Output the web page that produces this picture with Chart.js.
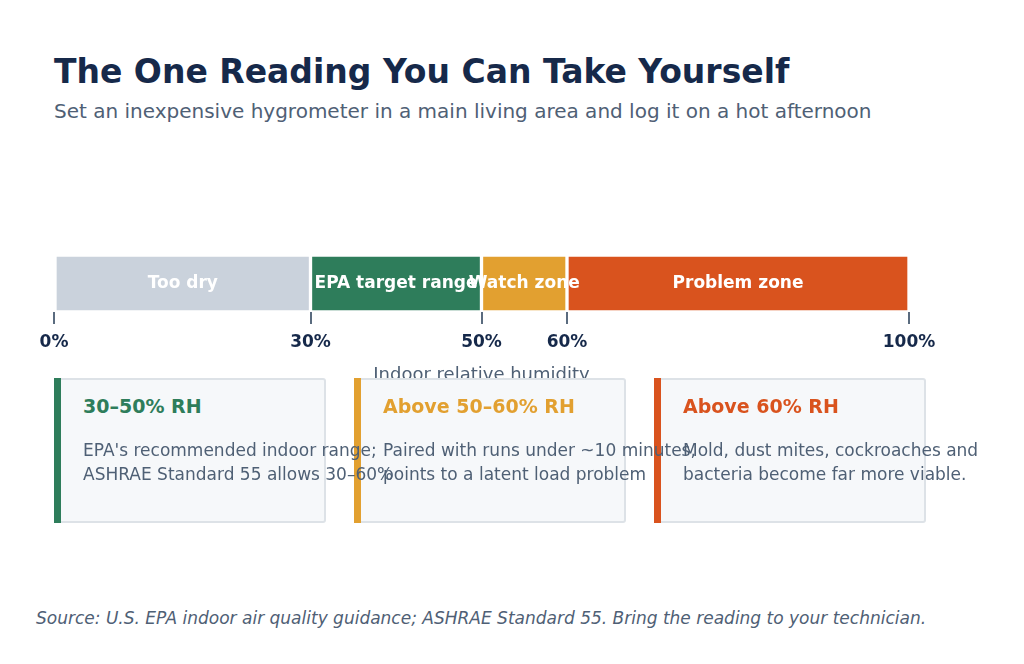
<!DOCTYPE html>
<html><head><meta charset="utf-8">
<script src="https://cdn.jsdelivr.net/npm/chart.js@4"></script>
<style>
body{margin:0;width:1024px;height:664px;background:#fff;font-family:"DejaVu Sans",sans-serif;position:relative;overflow:hidden}
.abs{position:absolute;white-space:nowrap}
h1{position:absolute;left:54px;top:52px;margin:0;font-size:33px;color:#16294a;font-weight:bold}
.sub{left:54px;top:99px;font-size:20px;color:#4f6075}
.card{position:absolute;top:378px;width:268px;height:141px;background:#f6f8fa;border:2px solid #dde2e7;border-radius:3px}
.card .bar{position:absolute;left:-2px;top:-2px;bottom:-2px;width:7px}
.card .hd{position:absolute;left:27px;top:15px;font-size:19px;font-weight:bold;white-space:nowrap}
.card .tx{position:absolute;z-index:10;left:27px;top:58px;font-size:17px;line-height:24px;color:#4f6075;white-space:nowrap}
.src{left:36px;top:608px;font-size:17px;font-style:italic;color:#4f6075}
</style></head><body>
<h1>The One Reading You Can Take Yourself</h1>
<div class="abs sub">Set an inexpensive hygrometer in a main living area and log it on a hot afternoon</div>
<div style="position:absolute;left:0;top:200px;width:1024px;height:190px"><canvas id="c"></canvas></div>
<div id="cards"></div>
<div class="abs src">Source: U.S. EPA indoor air quality guidance; ASHRAE Standard 55. Bring the reading to your technician.</div>
<script>
const zoneNames = ["Too dry", "EPA target range", "Watch zone", "Problem zone"];
const zoneStart = [0, 30, 50, 60];
const zoneEnd = [30, 50, 60, 100];
const zoneColors = ["#cad2dc", "#2e7d5b", "#e2a030", "#d9531e"];
const tickValues = [0, 30, 50, 60, 100];

const cardHeads = ["30–50% RH", "Above 50–60% RH", "Above 60% RH"];
const cardTexts = [
  "EPA's recommended indoor range;<br>ASHRAE Standard 55 allows 30–60%",
  "Paired with runs under ~10 minutes,<br>points to a latent load problem",
  "Mold, dust mites, cockroaches and<br>bacteria become far more viable."
];
const cardColors = ["#2e7d5b", "#e2a030", "#d9531e"];
const cardLeft = [54, 354, 654];

cardHeads.forEach((h, i) => {
  const d = document.createElement("div");
  d.className = "card";
  d.style.left = cardLeft[i] + "px";
  d.innerHTML = `<div class="bar" style="background:${cardColors[i]}"></div><div class="hd" style="color:${cardColors[i]}">${h}</div><div class="tx">${cardTexts[i]}</div>`;
  document.getElementById("cards").appendChild(d);
});

// Draw zone names centred in each bar segment
const labelPlugin = {
  id: "zoneLabels",
  afterDatasetsDraw(chart) {
    const ctx = chart.ctx;
    ctx.save();
    ctx.font = "bold 17px 'DejaVu Sans'";
    ctx.fillStyle = "#fff";
    ctx.textAlign = "center";
    ctx.textBaseline = "middle";
    chart.getDatasetMeta(0).data.forEach((bar, i) => {
      ctx.fillText(zoneNames[i], (bar.x + bar.base) / 2, bar.y);
    });
    ctx.restore();
  }
};

new Chart(document.getElementById("c"), {
  type: "bar",
  data: {
    labels: ["zones"],
    datasets: [{
      data: zoneNames.map((n, i) => ({ x: [zoneStart[i], zoneEnd[i]], y: "zones" })),
      backgroundColor: zoneColors,
      borderColor: "#fff",
      borderWidth: 2,
      borderSkipped: false,
      categoryPercentage: 1,
      barPercentage: 1
    }]
  },
  options: {
    indexAxis: "y",
    responsive: true,
    maintainAspectRatio: false,
    animation: false,
    layout: { padding: { left: 54, right: 115, top: 55, bottom: 0 } },
    plugins: { legend: { display: false }, tooltip: { enabled: false } },
    scales: {
      y: { display: false },
      x: {
        min: 0, max: 100,
        afterBuildTicks: s => { s.ticks = tickValues.map(v => ({ value: v })); },
        afterFit: s => { s.height = 78; },
        border: { display: false },
        grid: { drawOnChartArea: false, tickLength: 12, color: "#5a6b7f", lineWidth: 2 },
        ticks: { callback: v => v + "%", color: "#16294a", font: { size: 17, weight: "bold", family: "DejaVu Sans" }, padding: 8, maxRotation: 0 },
        title: { display: true, text: "Indoor relative humidity", color: "#4f6075", font: { size: 18, family: "DejaVu Sans" }, padding: { top: 6 } }
      }
    }
  },
  plugins: [labelPlugin]
});
</script>
</body></html>
